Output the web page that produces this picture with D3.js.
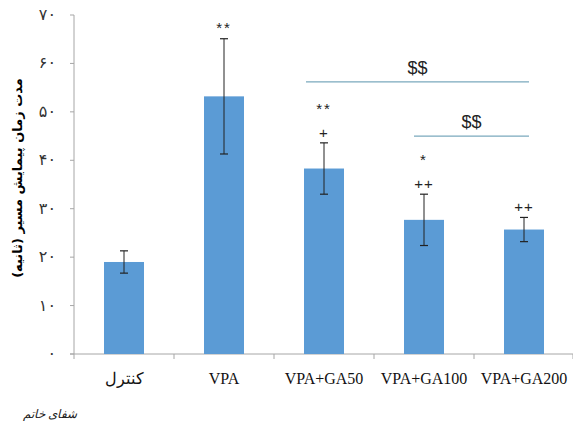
<!DOCTYPE html>
<html><head><meta charset="utf-8">
<script src="https://cdn.jsdelivr.net/npm/d3@7"></script>
<style>body{margin:0;background:#fff}svg{display:block}</style>
</head><body>
<script>
const categories = ["کنترل","VPA","VPA+GA50","VPA+GA100","VPA+GA200"];
const means = [19.0, 53.2, 38.3, 27.7, 25.7];
const errors = [2.3, 11.9, 5.3, 5.3, 2.5];
const starMarks = ["", "**", "**", "*", ""];
const plusMarks = ["", "", "+", "++", "++"];
const tickValues = [0,10,20,30,40,50,60,70];
const tickLabels = ["۰","۱۰","۲۰","۳۰","۴۰","۵۰","۶۰","۷۰"];
const brackets = [{from:2, to:4, label:"$$", value:56.2}, {from:3, to:4, label:"$$", value:45.0}];
const yTitle = "مدت زمان پیمایش مسیر (ثانیه)";
const logoText = "شفای خاتم";

const W=573,H=427;
const svg=d3.select("body").append("svg").attr("width",W).attr("height",H);
const x=d3.scaleBand().domain(categories).range([74,574]).paddingInner(0.6).paddingOuter(0.3);
const y=d3.scaleLinear().domain([0,70]).range([354,15]);

// y axis
svg.append("line").attr("x1",74).attr("x2",74).attr("y1",y(70)).attr("y2",y(0)).attr("stroke","#a6a6a6");
svg.selectAll(".yt").data(tickValues).enter().append("line")
  .attr("x1",70).attr("x2",74).attr("y1",d=>y(d)).attr("y2",d=>y(d)).attr("stroke","#a6a6a6");
svg.selectAll(".yl").data(tickValues).enter().append("text")
  .attr("x",56).attr("y",d=>y(d)+5).attr("text-anchor","end")
  .attr("font-family","DejaVu Sans").attr("font-size",16).attr("fill","#333")
  .text((d,i)=>tickLabels[i]);
// x axis
svg.append("line").attr("x1",70).attr("x2",574).attr("y1",y(0)).attr("y2",y(0)).attr("stroke","#a6a6a6");
const step=x.step();
svg.selectAll(".xt").data(categories).enter().append("line")
  .attr("x1",(d,i)=>74+i*step).attr("x2",(d,i)=>74+i*step)
  .attr("y1",y(0)).attr("y2",y(0)+5).attr("stroke","#a6a6a6");
svg.append("line").attr("x1",573).attr("x2",573).attr("y1",y(0)).attr("y2",y(0)+5).attr("stroke","#a6a6a6");
svg.selectAll(".xl").data(categories).enter().append("text")
  .attr("x",d=>x(d)+x.bandwidth()/2).attr("y",384).attr("text-anchor","middle")
  .attr("font-family","Liberation Serif, Times New Roman, serif").attr("font-weight","normal").attr("font-size",16).attr("fill","#111")
  .text(d=>d);

// bars
svg.selectAll(".bar").data(categories).enter().append("rect")
  .attr("x",d=>x(d)).attr("width",x.bandwidth())
  .attr("y",(d,i)=>y(means[i])).attr("height",(d,i)=>y(0)-y(means[i]))
  .attr("fill","#5b9bd5");
// error bars
const eb=svg.selectAll(".eb").data(categories).enter().append("g");
eb.append("line").attr("x1",d=>x(d)+x.bandwidth()/2).attr("x2",d=>x(d)+x.bandwidth()/2)
  .attr("y1",(d,i)=>y(means[i]+errors[i])).attr("y2",(d,i)=>y(means[i]-errors[i])).attr("stroke","#222").attr("stroke-width",1);
[1,-1].forEach(s=>{
 eb.append("line").attr("x1",d=>x(d)+x.bandwidth()/2-4).attr("x2",d=>x(d)+x.bandwidth()/2+4)
  .attr("y1",(d,i)=>y(means[i]+s*errors[i])).attr("y2",(d,i)=>y(means[i]+s*errors[i])).attr("stroke","#222").attr("stroke-width",1.2);
});
// significance marks
categories.forEach((c,i)=>{
  const cx=x(c)+x.bandwidth()/2;
  const top=y(means[i]+errors[i]);
  let sy=top-14;
  if(plusMarks[i]){
    svg.append("text").attr("x",cx).attr("y",top-10+5).attr("text-anchor","middle")
      .attr("font-family","Liberation Sans").attr("font-size",15).attr("letter-spacing",1).attr("fill","#222").text(plusMarks[i]);
    sy=top-37;
  }
  if(starMarks[i]){
    svg.append("text").attr("x",cx).attr("y",sy+8).attr("text-anchor","middle")
      .attr("font-family","Liberation Sans").attr("font-size",15).attr("letter-spacing",2).attr("fill","#222").text(starMarks[i]);
  }
});
// brackets
brackets.forEach(b=>{
  const x1=x(categories[b.from])+ (b.to-b.from>1?2:10);
  const x2=x(categories[b.to])+25;
  svg.append("line").attr("x1",x1).attr("x2",x2).attr("y1",y(b.value)).attr("y2",y(b.value)).attr("stroke","#7aa9bd").attr("stroke-width",1.2);
  svg.append("text").attr("x",(x1+x2)/2).attr("y",y(b.value)-8).attr("text-anchor","middle")
    .attr("font-family","Liberation Sans").attr("font-size",18).attr("fill","#222").text(b.label);
});
// y title
svg.append("text").attr("transform","translate(22,178) rotate(-90)").attr("text-anchor","middle")
  .attr("font-family","DejaVu Sans").attr("font-weight","bold").attr("font-size",13).attr("fill","#000")
  .attr("direction","rtl").text(yTitle);
// logo
svg.append("text").attr("x",50).attr("y",418).attr("text-anchor","middle")
  .attr("font-family","DejaVu Serif").attr("font-style","italic").attr("font-size",12).attr("fill","#222")
  .attr("direction","rtl").text(logoText);
</script>
</body></html>
